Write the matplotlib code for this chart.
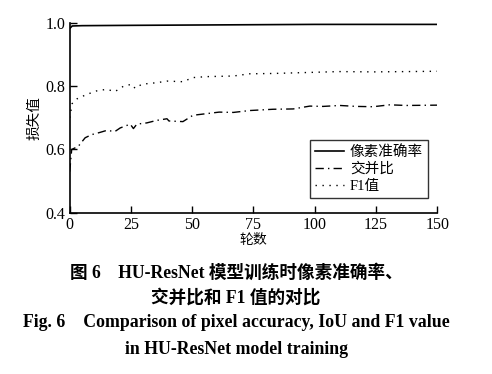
import matplotlib
matplotlib.use("Agg")
import matplotlib.pyplot as plt

plt.rcParams['font.family'] = ['Liberation Serif', 'Noto Sans CJK SC']
plt.rcParams['axes.unicode_minus'] = False

# values
pa_epochs = [0, 1, 5, 25, 50, 75, 100, 125, 150]
pa_values = [0.982, 0.990, 0.991, 0.992, 0.993, 0.994, 0.995, 0.995, 0.995]

iou_epochs = [0, 0.8, 3.5, 6.3, 9, 12.4, 15, 18.5, 20.6, 24.7, 26, 27.4, 31.5, 35.6,
              39.7, 40.5, 46.2, 50.3, 55.7, 61, 66.8, 73.5, 83, 91.2, 98, 103.4,
              110.2, 117, 123.8, 130.6, 137.5, 150]
iou_values = [0.53, 0.60, 0.61, 0.637, 0.647, 0.654, 0.66, 0.657, 0.668, 0.68, 0.666,
              0.68, 0.684, 0.692, 0.697, 0.69, 0.688, 0.708, 0.713, 0.718, 0.717,
              0.723, 0.727, 0.728, 0.737, 0.736, 0.739, 0.736, 0.735, 0.741, 0.739,
              0.74]

f1_epochs = [0, 1, 3, 7, 11, 15, 18.5, 22, 25.3, 26.7, 29.4, 35.6, 39.7, 46.2, 50.3,
             55.7, 66.8, 73.5, 83, 96.6, 110, 124, 137.5, 150]
f1_values = [0.70, 0.745, 0.76, 0.774, 0.785, 0.79, 0.783, 0.80, 0.806, 0.793, 0.806,
             0.811, 0.816, 0.814, 0.827, 0.83, 0.832, 0.839, 0.84, 0.843, 0.846,
             0.845, 0.846, 0.847]

labels = ['像素准确率', '交并比', 'F1值']

fig = plt.figure(figsize=(4.92, 3.74), dpi=100)
ax = fig.add_axes([0.1417, 0.431, 0.747, 0.508])

ax.plot(pa_epochs, pa_values, color='black', lw=1.2, linestyle='-', label=labels[0])
ax.plot(iou_epochs, iou_values, color='black', lw=1.0, linestyle=(0, (6, 3, 1, 3)), label=labels[1])
ax.plot(f1_epochs, f1_values, color='black', lw=1.0, linestyle=(0, (1, 4)), label=labels[2])

ax.set_xlim(0, 150)
ax.set_ylim(0.4, 1.0)
ax.set_xticks([0, 25, 50, 75, 100, 125, 150])
ax.set_yticks([0.4, 0.6, 0.8, 1.0])
ax.set_yticklabels(['0.4', '0.6', '0.8', '1.0'])
ax.spines['top'].set_visible(False)
ax.spines['right'].set_visible(False)
ax.tick_params(direction='in', length=5, width=1, labelsize=11.5, pad=3)
for s in ['left', 'bottom']:
    ax.spines[s].set_linewidth(1.2)

ax.set_xlabel('轮数', fontsize=10, labelpad=1)
ax.set_ylabel('损失值', fontsize=10.5, labelpad=3)

leg = ax.legend(loc='lower right', bbox_to_anchor=(0.995, 0.04), fontsize=10.5,
                frameon=True, fancybox=False, edgecolor='black', handlelength=2.0,
                borderpad=0.35, labelspacing=0.25, handletextpad=0.4)
leg.get_frame().set_linewidth(1.0)

fig.text(0.48, 0.27, '图 6    HU-ResNet 模型训练时像素准确率、', ha='center', va='center',
         fontsize=12.7, fontweight='bold')
fig.text(0.48, 0.205, '交并比和 F1 值的对比', ha='center', va='center',
         fontsize=12.7, fontweight='bold')
fig.text(0.48, 0.137, 'Fig. 6    Comparison of pixel accuracy, IoU and F1 value', ha='center',
         va='center', fontsize=12.8, fontweight='bold')
fig.text(0.48, 0.065, 'in HU-ResNet model training', ha='center', va='center',
         fontsize=12.8, fontweight='bold')

fig.savefig('out.png', dpi=100)
